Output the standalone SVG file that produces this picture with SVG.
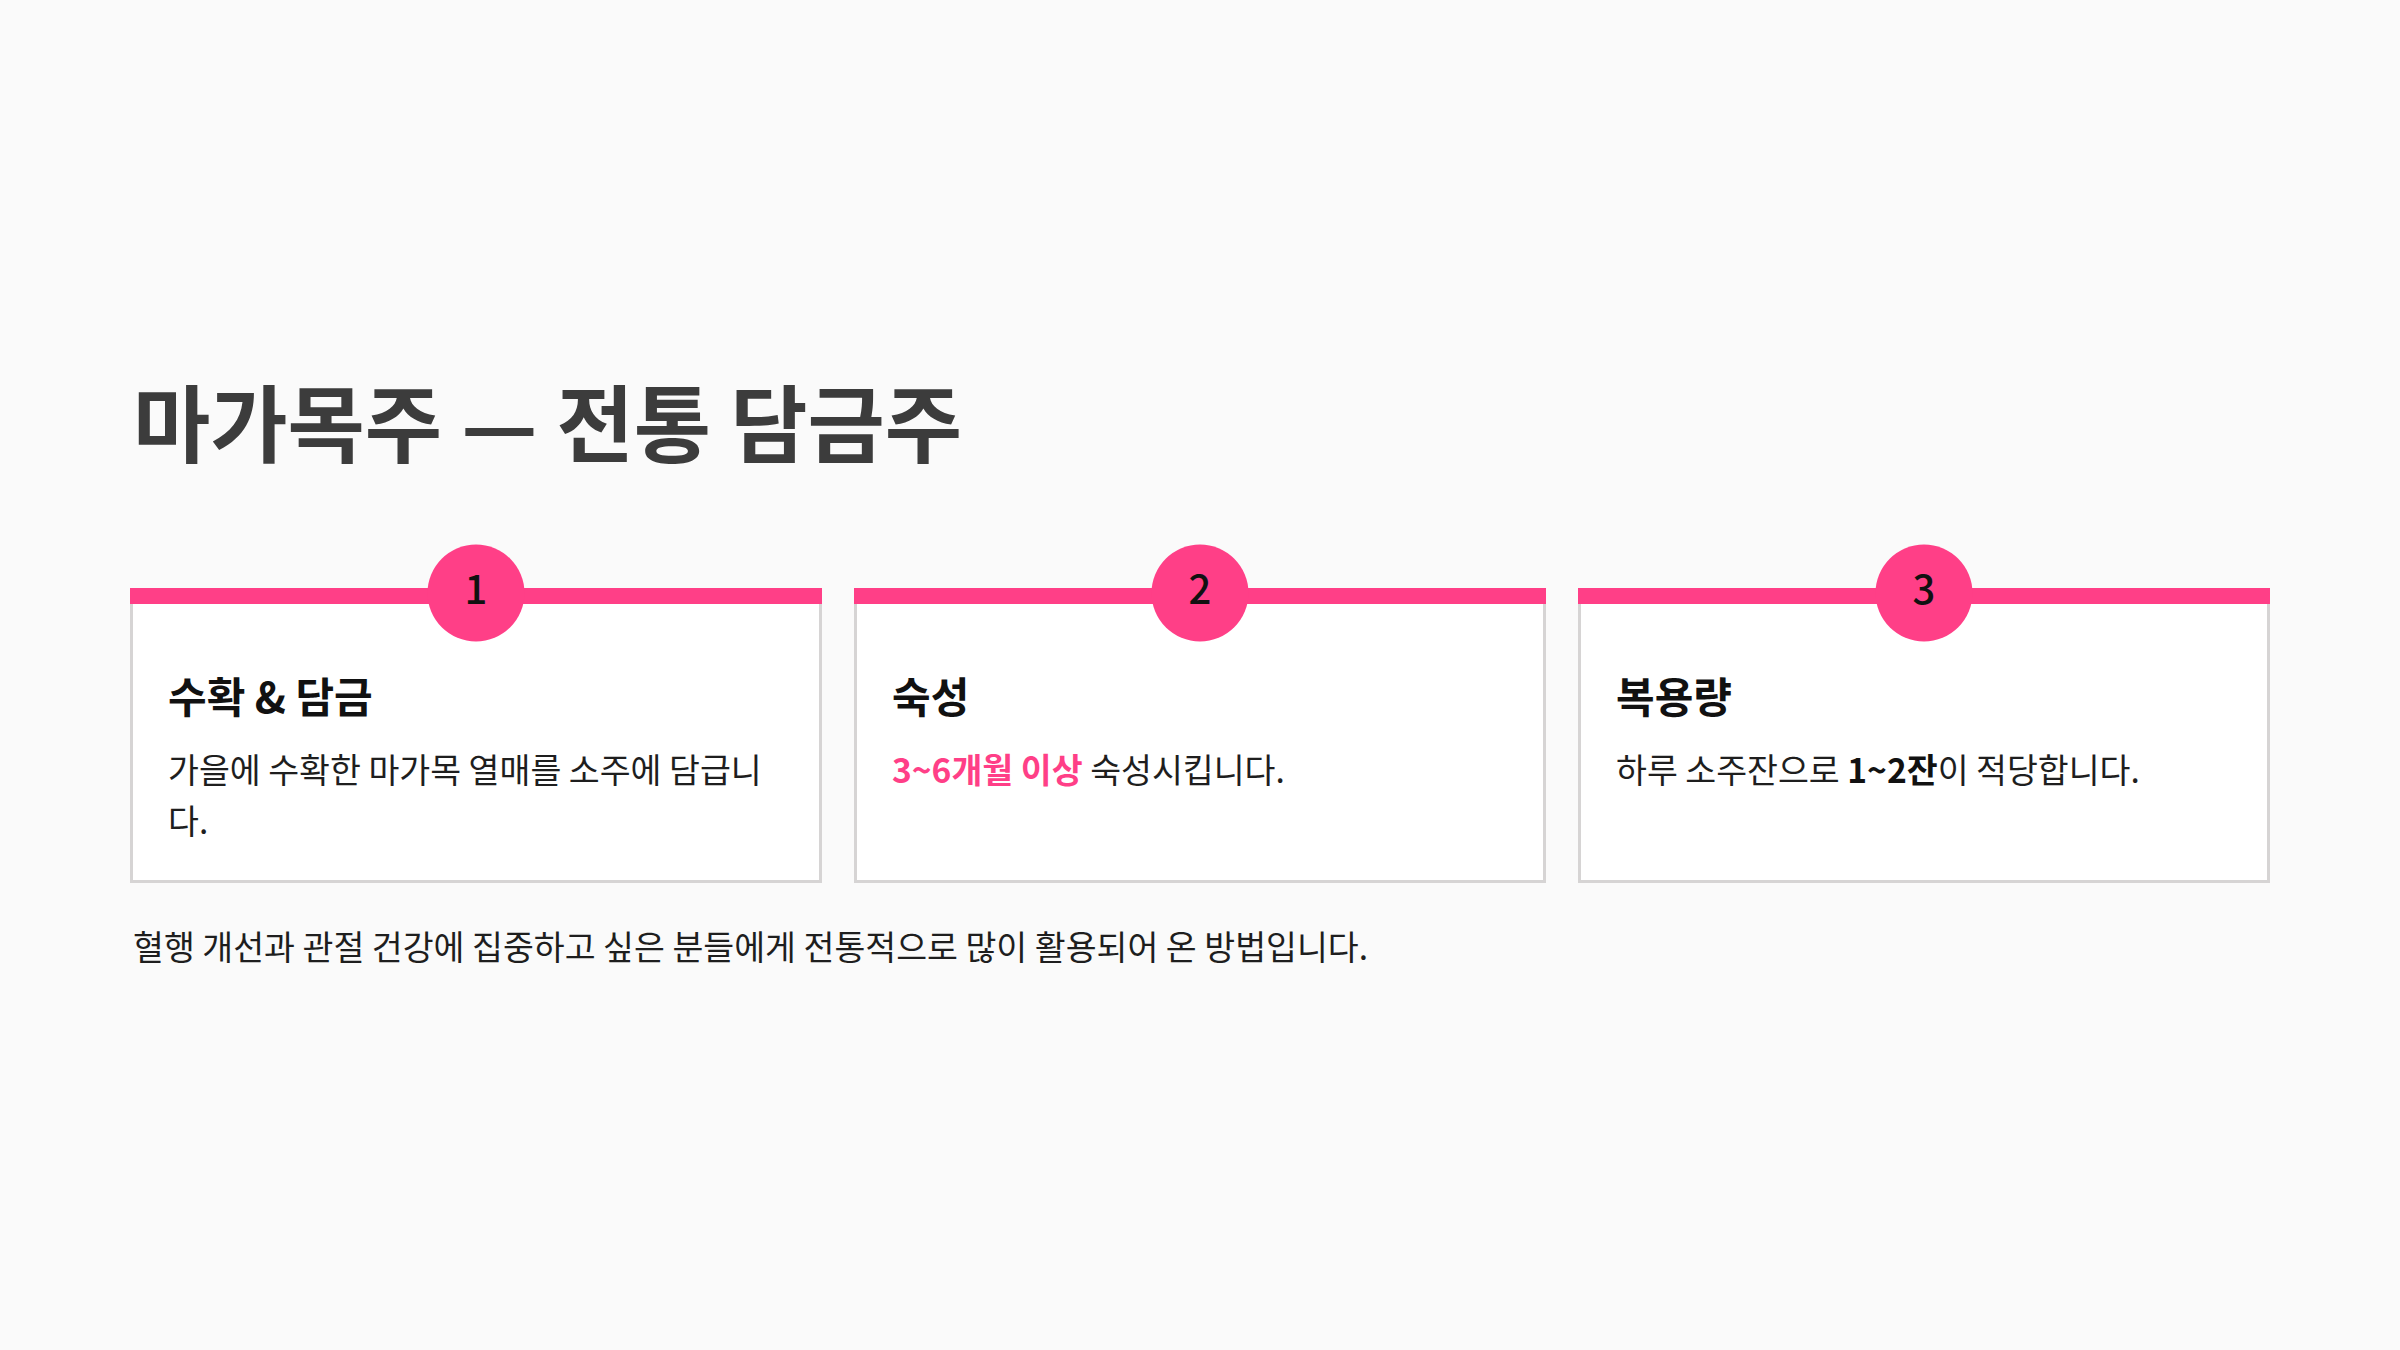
<svg xmlns="http://www.w3.org/2000/svg" width="2400" height="1350" viewBox="0 0 2400 1350">
<style>
text{font-family:"Noto Sans CJK KR","Noto Sans",sans-serif;}
.title{font-size:84px;font-weight:700;fill:#3c3c3c;}
.card{fill:#ffffff;stroke:#d6d4d4;stroke-width:3;}
.bar{fill:#ff3f87;}
.dot{fill:#ff3f87;}
.num{font-size:40px;font-weight:500;fill:#111111;text-anchor:middle;}
.head{font-size:42px;font-weight:700;fill:#111111;}
.body{font-size:33.6px;font-weight:400;fill:#1e1e1e;}
.hl{fill:#ff3f87;font-weight:700;}
.b{font-weight:700;fill:#111111;}
.foot{font-size:33.6px;font-weight:400;fill:#1e1e1e;}
</style>
<rect width="2400" height="1350" fill="#fafafa"/>
<text class="title" x="133" y="456">마가목주 — 전통 담금주</text>
<g id="step1">
<rect class="card" x="131.5" y="596" width="689" height="285.5"/>
<rect class="bar" x="130" y="588" width="692" height="16"/>
<circle class="dot" cx="476" cy="593" r="48.5"/>
<text class="num" x="476" y="604">1</text>
<text class="head" x="168" y="713">수확 &amp; 담금</text>
<text class="body" x="168" y="783">가을에 수확한 마가목 열매를 소주에 담급니</text>
<text class="body" x="168" y="834">다.</text>
</g>
<g id="step2">
<rect class="card" x="855.5" y="596" width="689" height="285.5"/>
<rect class="bar" x="854" y="588" width="692" height="16"/>
<circle class="dot" cx="1200" cy="593" r="48.5"/>
<text class="num" x="1200" y="604">2</text>
<text class="head" x="892" y="713">숙성</text>
<text class="body" x="892" y="783"><tspan class="hl">3~6개월 이상</tspan> 숙성시킵니다.</text>
</g>
<g id="step3">
<rect class="card" x="1579.5" y="596" width="689" height="285.5"/>
<rect class="bar" x="1578" y="588" width="692" height="16"/>
<circle class="dot" cx="1924" cy="593" r="48.5"/>
<text class="num" x="1924" y="604">3</text>
<text class="head" x="1616" y="713">복용량</text>
<text class="body" x="1616" y="783">하루 소주잔으로 <tspan class="b">1~2잔</tspan>이 적당합니다.</text>
</g>
<g id="connectors"></g>
<text class="foot" x="133" y="960">혈행 개선과 관절 건강에 집중하고 싶은 분들에게 전통적으로 많이 활용되어 온 방법입니다.</text>
</svg>
